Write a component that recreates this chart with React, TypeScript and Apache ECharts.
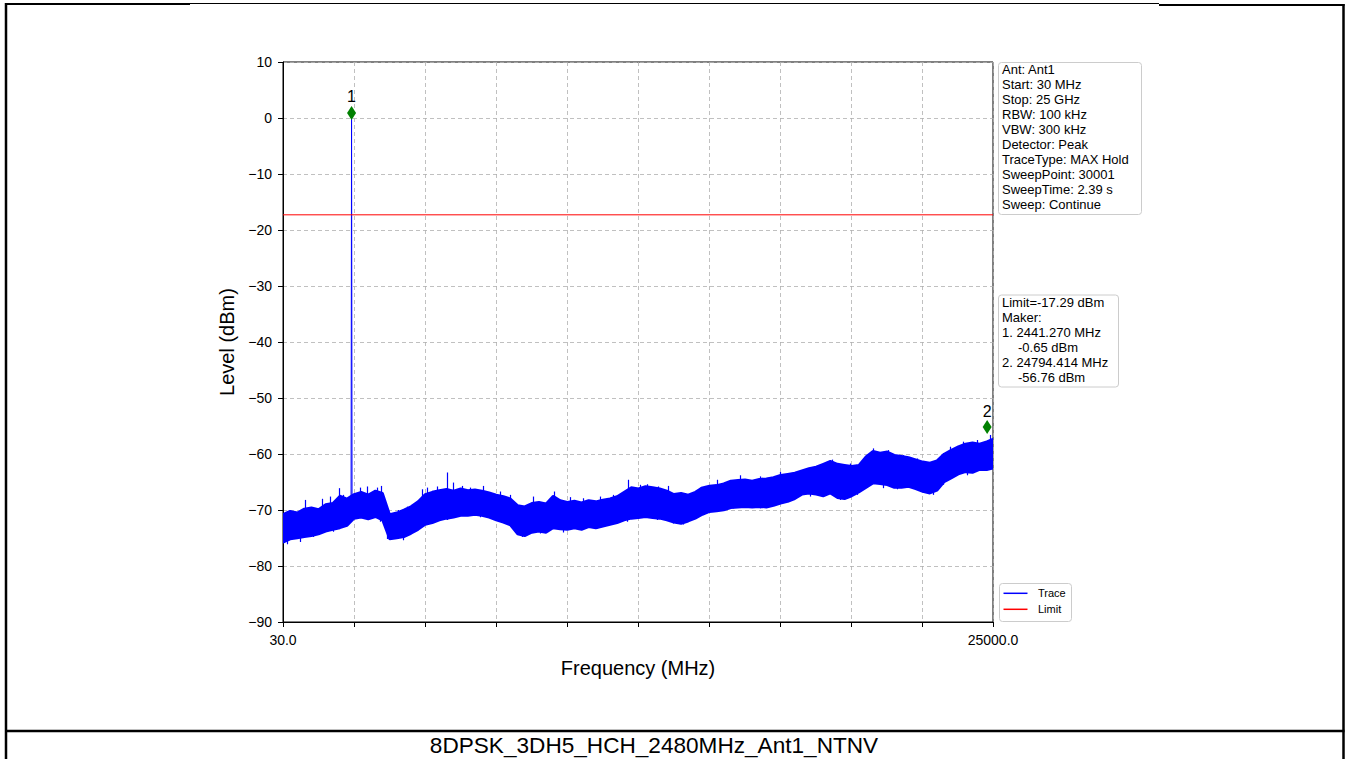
import React, { useEffect, useRef } from "react";
import * as echarts from "echarts";

// ---- sweep / axis settings ----
const freqStart = 30;
const freqStop = 25000;
const freqStep = 250; // spacing of the envelope readings (MHz)
const xTickInterval = 2497;
const xTickLabels: Record<string, string> = { "30": "30.0", "25000": "25000.0" };
const yMin = -90;
const yMax = 10;
const yInterval = 10;

// ---- trace envelope (dBm), one value every 250 MHz ----
const traceUpper = [
  -70.8, -70.2, -70.5, -69.8, -69.6, -69.9, -69.0, -68.8, -67.5, -68.0,
  -67.2, -66.8, -67.3, -66.6, -67.0, -70.8, -70.5, -70.0, -69.4, -68.5,
  -67.2, -66.8, -66.5, -66.3, -66.6, -66.2, -66.5, -66.4, -66.6, -66.9,
  -67.3, -67.6, -68.0, -69.2, -69.4, -68.8, -68.6, -68.9, -67.5, -68.3,
  -68.6, -68.4, -68.7, -68.3, -68.5, -68.2, -68.0, -67.6, -66.8, -66.0,
  -66.2, -65.8, -66.0, -66.2, -66.6, -67.2, -67.0, -67.3, -66.8, -66.0,
  -65.7, -65.6, -65.3, -64.8, -64.7, -64.6, -64.8, -64.5, -64.4, -64.2,
  -63.8, -63.6, -63.4, -63.0, -62.6, -62.3, -61.8, -61.3, -61.8, -62.0,
  -62.2, -62.0, -60.5, -59.5, -59.8, -59.6, -60.2, -60.4, -60.6, -61.0,
  -61.4, -61.6, -61.2, -60.0, -59.3, -58.7, -58.2, -58.0, -58.2, -57.8,
  -57.3,
];
const traceLower = [
  -75.8, -75.2, -75.0, -74.8, -74.6, -74.3, -73.8, -73.5, -73.2, -72.8,
  -71.5, -71.3, -71.6, -71.2, -71.8, -75.2, -75.0, -74.8, -74.2, -73.5,
  -72.6, -72.3, -71.8, -71.5, -71.3, -71.0, -71.0, -70.8, -71.0, -71.3,
  -71.8, -72.2, -72.7, -74.3, -74.6, -74.0, -73.8, -74.0, -73.2, -73.4,
  -73.5, -73.2, -73.5, -73.0, -73.2, -72.9, -72.6, -72.3, -71.8, -71.5,
  -71.4, -71.2, -71.4, -71.5, -71.8, -72.2, -72.4, -72.0, -71.5, -70.8,
  -70.3, -70.2, -70.0, -69.6, -69.5, -69.4, -69.5, -69.4, -69.5, -69.2,
  -68.8, -68.5, -68.0, -67.2, -67.0, -67.2, -67.5, -67.0, -67.8, -68.0,
  -67.5, -66.8, -66.0, -65.2, -65.3, -65.5, -66.0, -66.0, -65.8, -66.2,
  -66.7, -67.0, -66.5, -65.0, -64.3, -63.6, -63.2, -63.3, -62.8, -62.8,
  -62.5,
];

// ---- noise spikes ----
const spikeUpFreq = [
  804, 1402, 1683, 1999, 2140, 2738, 2984, 3336, 3477, 4075,
  4391, 4919, 5094, 5446, 5798, 6009, 6325, 6607, 7064, 7662,
  8014, 8823, 9561, 10124, 10581, 11179, 11636, 12164, 12586, 12832,
  13219, 13571, 14696, 15294, 16103, 16806, 17510, 18108, 18811, 19339,
  19972, 20781, 21308, 21835, 22328, 23031, 23488, 23946, 24438, 24896,
];
const spikeUpLevel = [
  -68.2, -68.0, -67.6, -66.1, -67.3, -66.0, -65.8, -66.0, -65.7, -70.0,
  -69.4, -66.3, -66.0, -65.8, -63.3, -65.1, -65.7, -66.0, -65.7, -66.7,
  -67.3, -67.6, -66.7, -67.7, -67.9, -67.6, -67.3, -64.6, -65.5, -65.4,
  -65.8, -65.7, -66.0, -64.6, -63.8, -64.0, -63.2, -63.5, -62.3, -61.0,
  -61.7, -59.0, -59.3, -60.2, -60.8, -61.1, -58.7, -57.8, -57.5, -56.6,
];
const spikeDownFreq = [
  171, 628, 1085, 1789, 2316, 3441, 3688, 4250, 4954, 5798,
  6958, 8014, 8436, 9069, 9878, 11073, 12128, 13183, 13746, 14098,
  14801, 15857, 16806, 17861, 18564, 19620, 20218, 21132, 21624, 22891,
  23243, 24087, 24650,
];
const spikeDownLevel = [
  -76.1, -75.7, -74.8, -73.9, -72.4, -72.1, -75.2, -75.4, -73.0, -71.8,
  -71.3, -72.9, -74.8, -74.2, -74.0, -73.3, -72.1, -71.8, -72.4, -72.6,
  -70.6, -69.7, -69.7, -68.2, -67.6, -68.2, -67.3, -66.1, -66.3, -67.3,
  -65.5, -63.8, -62.9,
];

// ---- carrier peak ----
const peakFreq = [2424, 2441.27, 2458];
const peakLevel = [-67.5, 0.9, -67.5];

// ---- markers and limit ----
const markerNames = ["1", "2"];
const markerFreq = [2441.27, 24794.414];
const markerLevel = [0.9, -55.2];
const limitLevel = -17.29;

// ---- texts ----
const infoLines = [
  "Ant: Ant1",
  "Start: 30 MHz",
  "Stop: 25 GHz",
  "RBW: 100 kHz",
  "VBW: 300 kHz",
  "Detector: Peak",
  "TraceType: MAX Hold",
  "SweepPoint: 30001",
  "SweepTime: 2.39 s",
  "Sweep: Continue",
];
const markerInfoLines = [
  { text: "Limit=-17.29 dBm", indent: 0 },
  { text: "Maker:", indent: 0 },
  { text: "1. 2441.270 MHz", indent: 0 },
  { text: "-0.65 dBm", indent: 1 },
  { text: "2. 24794.414 MHz", indent: 0 },
  { text: "-56.76 dBm", indent: 1 },
];
const legendItems = [
  { name: "Trace", color: "#0000ff" },
  { name: "Limit", color: "#ff0000" },
];
const caption = "8DPSK_3DH5_HCH_2480MHz_Ant1_NTNV";
const xAxisName = "Frequency (MHz)";
const yAxisName = "Level (dBm)";

const FONT = '"Liberation Sans", Arial, Helvetica, sans-serif';

export default function App() {
  const ref = useRef<HTMLDivElement>(null);

  useEffect(() => {
    if (!ref.current) return;
    const chart = echarts.init(ref.current, undefined, { renderer: "svg" });

    const traceFreq = traceUpper.map((_, i) => freqStart + i * freqStep);
    const bandData = traceFreq.map((f, i) => [f, traceUpper[i], traceLower[i]]);
    const nearest = (f: number) =>
      Math.min(traceUpper.length - 1, Math.max(0, Math.round((f - freqStart) / freqStep)));
    const spikeData = [
      ...spikeUpFreq.map((f, i) => ({ coords: [[f, traceUpper[nearest(f)] - 1], [f, spikeUpLevel[i]]] })),
      ...spikeDownFreq.map((f, i) => ({ coords: [[f, traceLower[nearest(f)] + 1], [f, spikeDownLevel[i]]] })),
    ];

    const graphics: any[] = [];
    // page frame
    const line = (x1: number, y1: number, x2: number, y2: number, w: number) => ({
      type: "line",
      shape: { x1, y1, x2, y2 },
      style: { stroke: "#000", lineWidth: w },
      silent: true,
      z: 100,
    });
    graphics.push(line(6, 3, 6, 759, 2.5));
    graphics.push(line(1343.5, 4, 1343.5, 759, 2.5));
    graphics.push(line(5, 4, 190, 4, 2));
    graphics.push(line(190, 3.5, 1159, 3.5, 1));
    graphics.push(line(1159, 5, 1344.5, 5, 2));
    graphics.push(line(5, 731, 1344.5, 731, 2.5));
    graphics.push({
      type: "text",
      x: 654,
      y: 745,
      style: {
        text: caption,
        font: `22.6px ${FONT}`,
        fill: "#000",
        align: "center",
        verticalAlign: "middle",
      },
      z: 100,
    });

    // info box
    graphics.push({
      type: "rect",
      shape: { x: 998.5, y: 62.5, width: 143, height: 152, r: 3 },
      style: { fill: "rgba(255,255,255,0.8)", stroke: "#cccccc", lineWidth: 1 },
      z: 50,
    });
    infoLines.forEach((t, i) => {
      graphics.push({
        type: "text",
        x: 1002,
        y: 61.5 + i * 15,
        style: { text: t, font: `13px ${FONT}`, fill: "#000", lineHeight: 15, verticalAlign: "top", align: "left" },
        z: 51,
      });
    });
    // marker box
    graphics.push({
      type: "rect",
      shape: { x: 998.5, y: 295, width: 120, height: 92, r: 3 },
      style: { fill: "rgba(255,255,255,0.8)", stroke: "#cccccc", lineWidth: 1 },
      z: 50,
    });
    markerInfoLines.forEach((l, i) => {
      graphics.push({
        type: "text",
        x: 1002 + l.indent * 16,
        y: 294.5 + i * 15,
        style: { text: l.text, font: `13px ${FONT}`, fill: "#000", lineHeight: 15, verticalAlign: "top", align: "left" },
        z: 51,
      });
    });
    // legend
    graphics.push({
      type: "rect",
      shape: { x: 999.5, y: 583.5, width: 72, height: 38, r: 3 },
      style: { fill: "rgba(255,255,255,0.8)", stroke: "#cccccc", lineWidth: 1 },
      z: 50,
    });
    legendItems.forEach((it, i) => {
      const y = 593.3 + i * 16;
      graphics.push({
        type: "line",
        shape: { x1: 1003.5, y1: y, x2: 1027.5, y2: y },
        style: { stroke: it.color, lineWidth: 1.5 },
        z: 51,
      });
      graphics.push({
        type: "text",
        x: 1038,
        y,
        style: { text: it.name, font: `11px ${FONT}`, fill: "#000", verticalAlign: "middle", align: "left" },
        z: 51,
      });
    });

    const minus = (v: number) => (v < 0 ? "\u2212" + Math.abs(v) : String(v));

    chart.setOption({
      animation: false,
      backgroundColor: "#ffffff",
      textStyle: { fontFamily: FONT },
      grid: {
        left: 283,
        top: 62,
        width: 710,
        height: 560,
        show: true,
        borderColor: "#000",
        borderWidth: 1,
        backgroundColor: "transparent",
      },
      xAxis: {
        type: "value",
        min: freqStart,
        max: freqStop,
        interval: xTickInterval,
        name: xAxisName,
        nameLocation: "middle",
        nameGap: 36,
        nameTextStyle: { fontSize: 20, color: "#000", fontFamily: FONT },
        axisLine: { show: true, onZero: false, lineStyle: { color: "#000", width: 1 } },
        axisTick: { show: true, length: 5, lineStyle: { color: "#000", width: 1 } },
        axisLabel: {
          show: true,
          margin: 11,
          fontSize: 14,
          color: "#000",
          fontFamily: FONT,
          showMinLabel: true,
          showMaxLabel: true,
          formatter: (v: number) => xTickLabels[String(Math.round(v))] ?? "",
        },
        splitLine: { show: true, lineStyle: { color: "#b0b0b0", type: [4, 3], width: 0.8 } },
      },
      yAxis: {
        type: "value",
        min: yMin,
        max: yMax,
        interval: yInterval,
        name: yAxisName,
        nameLocation: "middle",
        nameGap: 45,
        nameRotate: 90,
        nameTextStyle: { fontSize: 20, color: "#000", fontFamily: FONT },
        axisLine: { show: true, onZero: false, lineStyle: { color: "#000", width: 1 } },
        axisTick: { show: true, length: 5, lineStyle: { color: "#000", width: 1 } },
        axisLabel: { margin: 11, fontSize: 14, color: "#000", fontFamily: FONT, formatter: minus },
        splitLine: { show: true, lineStyle: { color: "#b0b0b0", type: [4, 3], width: 0.8 } },
      },
      graphic: graphics,
      series: [
        {
          name: "Trace",
          type: "custom",
          coordinateSystem: "cartesian2d",
          data: bandData,
          encode: { x: 0, y: [1, 2] },
          clip: true,
          renderItem: (params: any, api: any) => {
            if (params.dataIndex !== 0) return null;
            const top = bandData.map((d) => api.coord([d[0], d[1]]));
            const bottom = bandData.map((d) => api.coord([d[0], d[2]])).reverse();
            return {
              type: "polygon",
              shape: { points: top.concat(bottom) },
              style: { fill: "#0000ff", stroke: "#0000ff", lineWidth: 2.5, lineJoin: "bevel" },
            };
          },
          z: 2,
        },
        {
          name: "TraceSpikes",
          type: "lines",
          coordinateSystem: "cartesian2d",
          data: spikeData,
          lineStyle: { color: "#0000ff", width: 1.2, opacity: 1 },
          z: 3,
        },
        {
          name: "Peak",
          type: "line",
          symbol: "none",
          data: peakFreq.map((f, i) => [f, peakLevel[i]]),
          lineStyle: { color: "#0000ff", width: 1 },
          z: 3,
        },
        {
          name: "Limit",
          type: "line",
          symbol: "none",
          data: [
            [freqStart, limitLevel],
            [freqStop, limitLevel],
          ],
          lineStyle: { color: "#ff0000", width: 1 },
          z: 4,
        },
        {
          name: "Markers",
          type: "scatter",
          symbol: "diamond",
          symbolSize: [9, 14],
          itemStyle: { color: "#008000", opacity: 1 },
          data: markerFreq.map((f, i) => ({ name: markerNames[i], value: [f, markerLevel[i]] })),
          label: {
            show: true,
            position: "top",
            distance: 1,
            formatter: (p: any) => p.name,
            fontSize: 16,
            color: "#000000",
            opacity: 1,
            fontFamily: FONT,
          },
          z: 5,
        },
      ],
    });

    return () => chart.dispose();
  }, []);

  return (
    <div
      ref={ref}
      style={{ position: "fixed", left: 0, top: 0, width: 1346, height: 759, background: "#fff" }}
    />
  );
}
